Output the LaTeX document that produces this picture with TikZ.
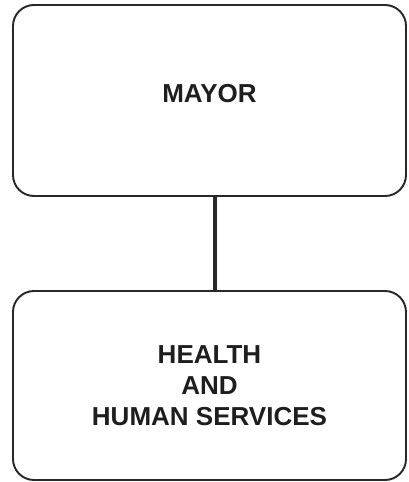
\documentclass[tikz,border=0pt]{standalone}
\usepackage{fontspec}
\setmainfont{Liberation Sans}
\usepackage{tikz}
\usetikzlibrary{calc}
\usetikzlibrary{positioning}
\definecolor{inkline}{RGB}{40, 40, 40}
\definecolor{inktext}{RGB}{30, 30, 30}

\tikzset{
    orgbox/.style={draw=inkline, line width=1.1pt, rounded corners=0.42cm,
                   minimum width=7.86cm, align=center, text=inktext,
                   font=\fontsize{14.8}{17.6}\selectfont\bfseries},
    orglink/.style={draw=inkline, line width=1.9pt}
}

\begin{document}
\begin{tikzpicture}
        \useasboundingbox (0.00, 0.00) rectangle (8.16, 9.64);
        \node[orgbox, minimum height=3.82cm, text depth=0.28cm] (mayor) at (4.19, 7.63) {MAYOR};
        \node[orgbox, minimum height=3.78cm] (hhs)   at (4.19, 1.93) {HEALTH\\AND\\HUMAN SERVICES};
        \draw[orglink] ([xshift=0.11cm]mayor.south) -- ([xshift=0.11cm]hhs.north);
\end{tikzpicture}
\end{document}
